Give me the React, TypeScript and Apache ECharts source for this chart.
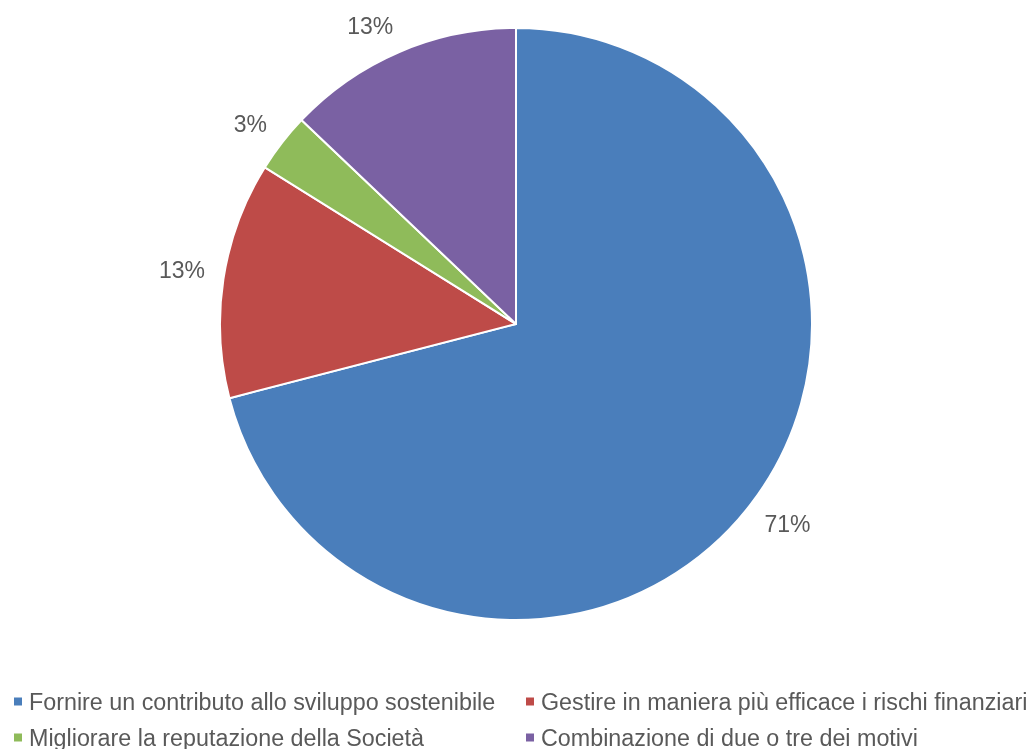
import React, { useEffect, useRef } from "react";
import * as echarts from "echarts";

const categories = [
  "Fornire un contributo allo sviluppo sostenibile",
  "Gestire in maniera più efficace i rischi finanziari",
  "Migliorare la reputazione della Società",
  "Combinazione di due o tre dei motivi",
];
const values = [22, 4, 1, 4];
const colors = ["#4A7EBB", "#BE4B48", "#8FBB5A", "#7A61A3"];
// legend grid: [column, row] for each category
const legendCells: [number, number][] = [
  [0, 0],
  [1, 0],
  [0, 1],
  [1, 1],
];

export default function App() {
  const ref = useRef<HTMLDivElement>(null);
  useEffect(() => {
    if (!ref.current) return;
    const chart = echarts.init(ref.current, null, { renderer: "svg" });
    const textStyle = {
      color: "#595959",
      fontSize: 23,
      fontFamily: "Liberation Sans, Arial, sans-serif",
    };
    const colLeft = [12, 524];
    const rowTop = [690, 726];
    const legends = categories.map((name, i) => ({
      orient: "horizontal",
      left: colLeft[legendCells[i][0]],
      top: rowTop[legendCells[i][1]],
      padding: 0,
      itemWidth: 10,
      itemHeight: 10,
      icon: "rect",
      textStyle: { ...textStyle, fontSize: 23.3, padding: [0, 0, 0, 1] },
      selectedMode: false,
      data: [name],
    }));
    chart.setOption({
      animation: false,
      color: colors,
      legend: legends,
      series: [
        {
          type: "pie",
          center: [516, 324],
          radius: 296,
          startAngle: 90,
          clockwise: true,
          avoidLabelOverlap: false,
          itemStyle: { borderColor: "#ffffff", borderWidth: 2 },
          label: {
            show: true,
            position: "outside",
            formatter: (p: any) => Math.round(p.percent) + "%",
            ...textStyle,
          },
          labelLine: { show: false, length: 21, length2: 0 },
          labelLayout: (params: any) => {
            const pts = params.labelLinePoints;
            if (!pts || pts.length < 2) return {};
            const dx = pts[1][0] - pts[0][0];
            const dy = pts[1][1] - pts[0][1];
            const w = params.labelRect.width * 0.9;
            const h = params.labelRect.height * 0.55;
            return {
              x: pts[1][0] + Math.sign(dx) * w / 2,
              y: pts[1][1] + Math.sign(dy) * h / 2,
              align: "center",
              verticalAlign: "middle",
            };
          },
          data: categories.map((name, i) => ({ name, value: values[i] })),
        },
      ],
    });
    return () => chart.dispose();
  }, []);
  return (
    <div
      ref={ref}
      style={{ position: "fixed", left: 0, top: 0, width: 1030, height: 749 }}
    />
  );
}
